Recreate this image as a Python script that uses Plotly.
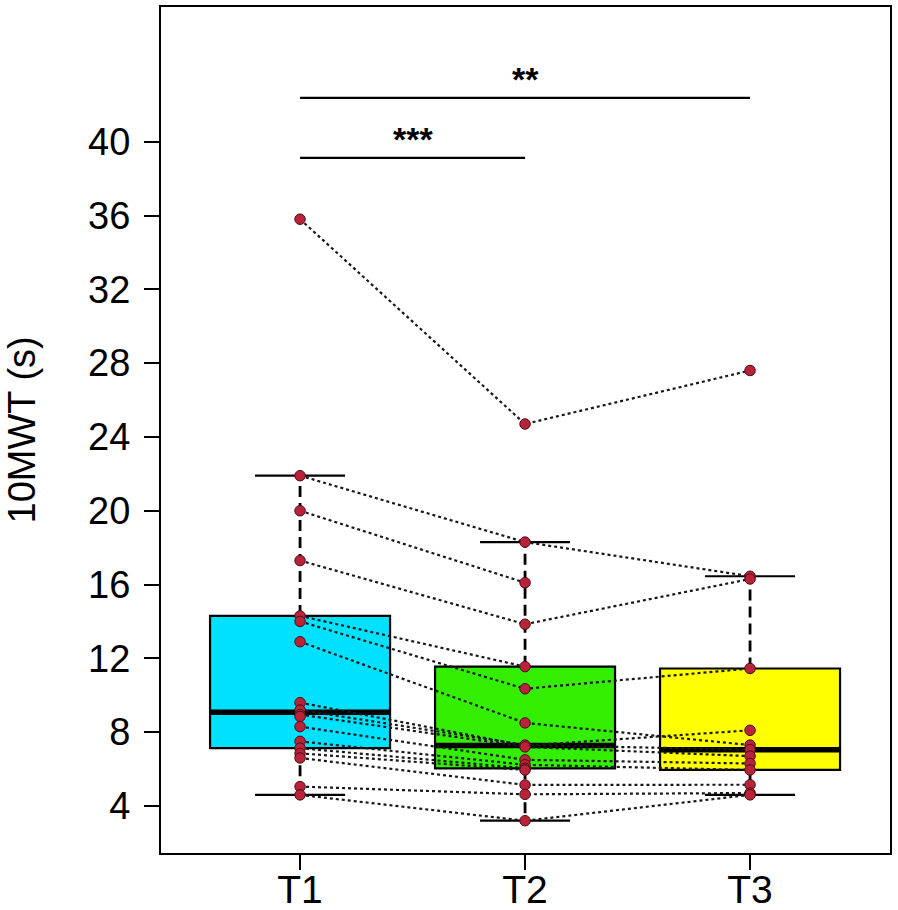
import numpy as np
import plotly.graph_objects as go

groups = ["T1", "T2", "T3"]
box_colors = ["#00E1FF", "#33EE00", "#FFFF00"]

# 10MWT (s) per participant at each time point (None = missing)
t1 = [35.8, 21.9, 20.0, 17.3, 14.3, 14.0, 12.9, 9.6, 9.2, 8.95, 8.85, 8.3, 7.5, 7.13, 6.85, 6.6, 5.05, 4.6]
t2 = [24.7, 18.3, 16.1, 13.85, 11.55, 10.35, 8.5, 7.27, 7.3, 7.2, None, 6.5, 6.23, 6.04, 5.95, 5.14, 4.63, 3.2]
t3 = [27.6, 16.45, None, 16.3, None, 11.45, 7.3, 8.1, 7.05, 6.7, None, 6.3, 5.95, None, None, 5.15, 4.7, 4.6]

# significance brackets: (from group, to group, label, height)
sig_from = [1, 1]
sig_to = [2, 3]
sig_label = ["***", "**"]
sig_y = [39.12, 42.38]

y_ticks = [4, 8, 12, 16, 20, 24, 28, 32, 36, 40]

FONT = "Liberation Sans, Arial, sans-serif"


def box_stats(vals):
    # R style boxplot: Tukey hinges + 1.5 IQR whiskers
    v = np.sort(np.array([x for x in vals if x is not None]))
    n = len(v)
    h = (n + 1) // 2
    lo, hi = np.median(v[:h]), np.median(v[n - h:])
    iqr = hi - lo
    wlo = v[v >= lo - 1.5 * iqr].min()
    whi = v[v <= hi + 1.5 * iqr].max()
    return lo, np.median(v), hi, wlo, whi


fig = go.Figure()
series = [t1, t2, t3]
xpos = [1, 2, 3]

for i, vals in enumerate(series):
    q1, med, q3, wlo, whi = box_stats(vals)
    x = xpos[i]
    fig.add_trace(
        go.Box(
            x=[x], q1=[q1], median=[med], q3=[q3],
            lowerfence=[q1], upperfence=[q3],
            width=0.8, whiskerwidth=0, boxpoints=False,
            fillcolor=box_colors[i],
            line=dict(color="black", width=2.2),
            showlegend=False, hoverinfo="skip",
        )
    )
    # dashed whiskers
    fig.add_trace(go.Scatter(x=[x, x, None, x, x], y=[q3, whi, None, q1, wlo], mode="lines",
                             line=dict(color="black", width=2.8, dash="11px,6px"),
                             showlegend=False, hoverinfo="skip"))
    # staples
    fig.add_trace(go.Scatter(x=[x - 0.2, x + 0.2, None, x - 0.2, x + 0.2], y=[whi, whi, None, wlo, wlo],
                             mode="lines", line=dict(color="black", width=2.2),
                             showlegend=False, hoverinfo="skip"))
    # thick median
    fig.add_trace(go.Scatter(x=[x - 0.4, x + 0.4], y=[med, med], mode="lines",
                             line=dict(color="black", width=5.5),
                             showlegend=False, hoverinfo="skip"))

# participant trajectories
for a, b, c in zip(t1, t2, t3):
    fig.add_trace(go.Scatter(x=xpos, y=[a, b, c], mode="lines",
                             line=dict(color="#181818", width=2.2, dash="3px,3px"),
                             showlegend=False, hoverinfo="skip"))

for i, vals in enumerate(series):
    fig.add_trace(go.Scatter(x=[xpos[i]] * len(vals), y=vals, mode="markers",
                             marker=dict(size=10.5, color="#B8233A", line=dict(color="#4a0d18", width=1)),
                             showlegend=False))

# significance bars
for a, b, lab, yv in zip(sig_from, sig_to, sig_label, sig_y):
    fig.add_trace(go.Scatter(x=[a, b], y=[yv, yv], mode="lines",
                             line=dict(color="black", width=2.2),
                             showlegend=False, hoverinfo="skip"))
    fig.add_annotation(x=(a + b) / 2, y=yv, text="<b>" + lab + "</b>", showarrow=False,
                       yanchor="bottom", yshift=-2,
                       font=dict(family=FONT, size=34, color="black"))

fig.add_annotation(xref="paper", yref="paper", x=-0.19, y=0.5, text="10MWT (s)",
                   textangle=-90, showarrow=False, xanchor="center", yanchor="middle",
                   font=dict(family=FONT, size=38, color="black"))

fig.update_layout(
    width=898, height=910,
    margin=dict(l=161, r=8, t=7, b=57),
    plot_bgcolor="white", paper_bgcolor="white",
    font=dict(family=FONT, color="black"),
)
fig.update_xaxes(
    range=[0.382, 3.622], tickvals=xpos, ticktext=groups,
    ticks="outside", ticklen=15, tickwidth=2, tickcolor="black",
    tickfont=dict(size=39), showgrid=False, zeroline=False, automargin=False,
    ticklabelstandoff=-14,
    showline=True, mirror=True, linecolor="black", linewidth=2,
)
fig.update_yaxes(
    range=[1.45, 47.3], tickvals=y_ticks,
    ticks="outside", ticklen=15, tickwidth=2, tickcolor="black",
    tickfont=dict(size=38), showgrid=False, zeroline=False, automargin=False,
    ticklabelstandoff=6,
    showline=True, mirror=True, linecolor="black", linewidth=2,
)

# drop the default 8px page margin so the figure fills the window exactly
fig.write_html("out.html", config={"displayModeBar": False},
               post_script="document.body.style.margin = '0';")
